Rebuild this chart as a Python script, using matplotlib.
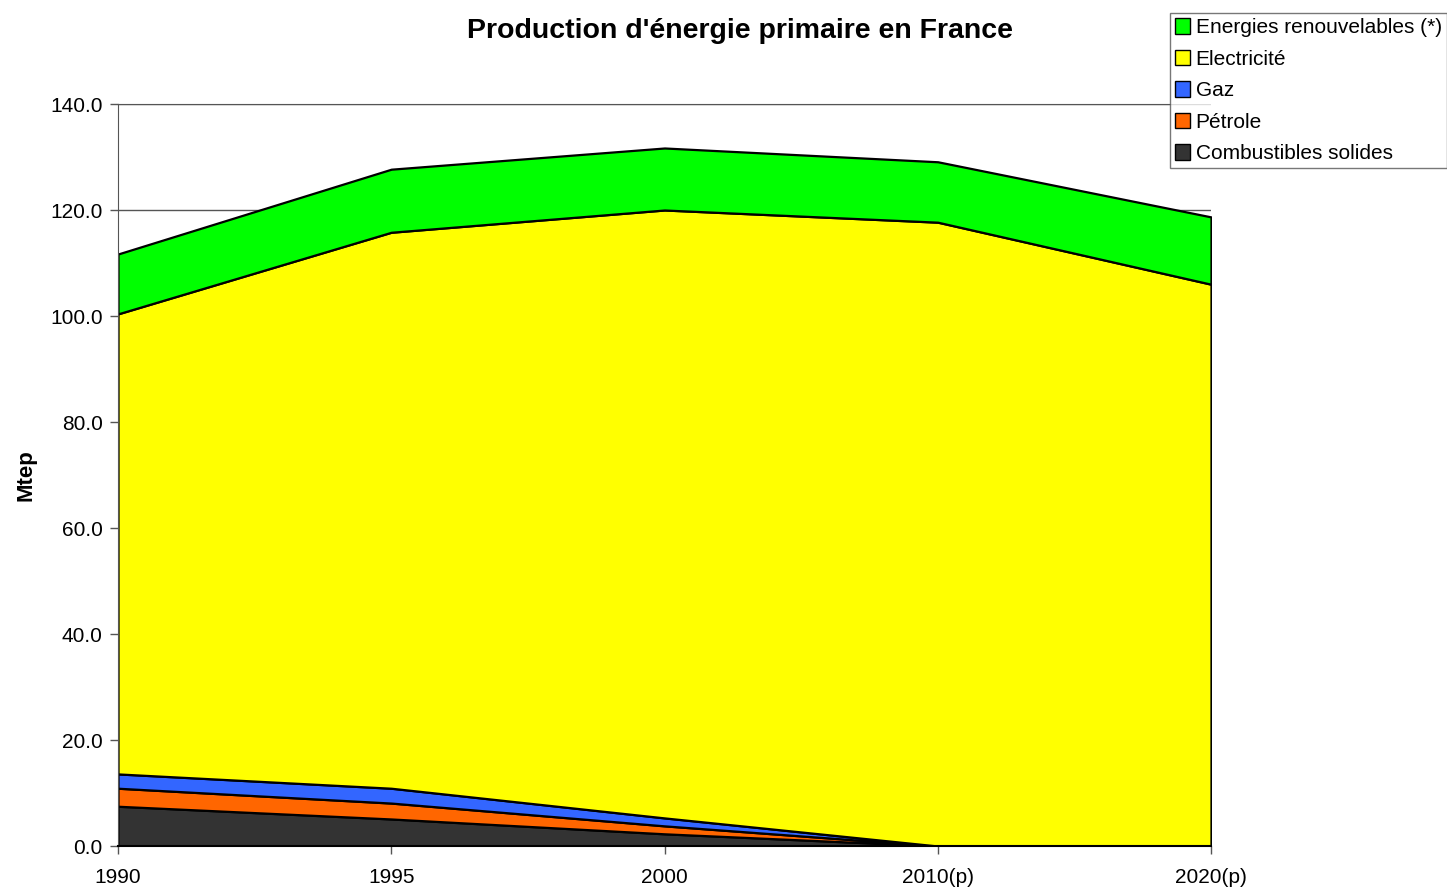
import numpy as np
import matplotlib.pyplot as plt
from matplotlib.patches import Patch

plt.rcParams['font.family'] = ['Liberation Sans', 'DejaVu Sans']

# Production par source (Mtep)
annees = ['1990', '1995', '2000', '2010(p)', '2020(p)']
combustibles = [7.5, 5.1, 2.3, 0.0, 0.0]
petrole = [3.4, 3.0, 1.5, 0.0, 0.0]
gaz = [2.7, 2.8, 1.5, 0.0, 0.0]
electricite = [86.8, 104.9, 114.7, 117.7, 106.0]
renouvelables = [11.3, 11.9, 11.7, 11.4, 12.7]

noms = ['Combustibles solides', 'Pétrole', 'Gaz', 'Electricité',
        'Energies renouvelables (*)']
couleurs = ['#333333', '#ff6600', '#3366ff', '#ffff00', '#00ff00']

fig = plt.figure(figsize=(14.47, 8.9), dpi=100)
ax = fig.add_axes([118 / 1447, 1 - 846 / 890, (1211 - 118) / 1447, (846 - 104) / 890])

x = np.arange(len(annees))
ax.stackplot(x, combustibles, petrole, gaz, electricite, renouvelables,
             colors=couleurs, edgecolor='black', linewidth=1.6, zorder=2)

ax.set_xlim(0, len(annees) - 1)
ax.set_ylim(0, 140)
ax.set_yticks(np.arange(0, 141, 20))
ax.set_yticklabels(['%.1f' % v for v in np.arange(0, 141, 20)])
ax.set_xticks(x)
ax.set_xticklabels(annees)
ax.tick_params(labelsize=15, length=6, width=1, color='#555555', pad=5)
ax.tick_params(axis='x', pad=10)
ax.yaxis.grid(True, color='#555555', linewidth=1, zorder=0)
ax.set_axisbelow(True)
ax.spines['right'].set_visible(False)
ax.spines['left'].set_color('#555555')
ax.spines['bottom'].set_color('black')
ax.spines['bottom'].set_linewidth(1.5)
ax.spines['top'].set_color('#555555')
ax.spines['top'].set_bounds(0, 3.85)

ax.set_ylabel('Mtep', fontsize=16, fontweight='bold', labelpad=10)
fig.text(740 / 1447, 1 - 31 / 890, "Production d'énergie primaire en France",
         ha='center', va='center', fontsize=20.5, fontweight='bold')

poignees = [Patch(facecolor=c, edgecolor='black', label=n)
            for c, n in zip(couleurs, noms)][::-1]
leg = fig.legend(handles=poignees, loc='upper right',
                 bbox_to_anchor=(1.0, 1 - 13 / 890), fontsize=15,
                 frameon=True, fancybox=False, edgecolor='#555555',
                 handlelength=0.75, handleheight=0.75, handletextpad=0.25,
                 labelspacing=0.6, borderpad=0.25, borderaxespad=0)
leg.get_frame().set_linewidth(1)

fig.savefig('out.png', dpi=100)
